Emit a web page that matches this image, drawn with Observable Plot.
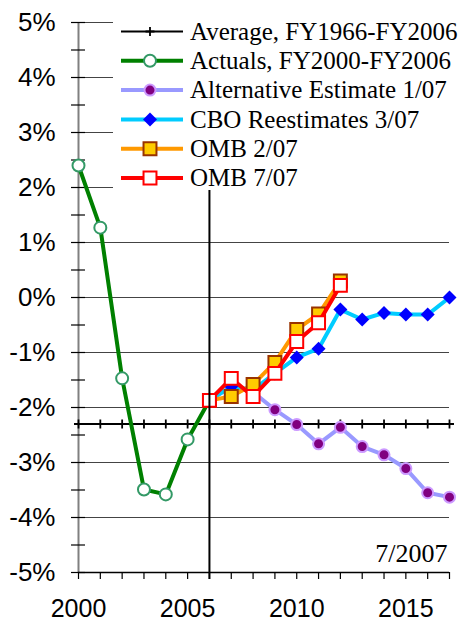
<!DOCTYPE html>
<html><head><meta charset="utf-8">
<script src="https://cdn.jsdelivr.net/npm/d3@7"></script>
<script src="https://cdn.jsdelivr.net/npm/@observablehq/plot@0.6"></script>
<style>body{margin:0;background:#fff} .serif-text{font-family:"Liberation Serif","Times New Roman",serif !important;}</style>
</head><body><div id="chart"></div>
<script>
// ---- data ----
const allYears = [2000,2001,2002,2003,2004,2005,2006,2007,2008,2009,2010,2011,2012,2013,2014,2015,2016,2017];
const labeledYears = [2000,2005,2010,2015];
const yMajor = [-5,-4,-3,-2,-1,0,1,2,3,4,5];
const yMinor = [-5,-4.5,-4,-3.5,-3,-2.5,-2,-1.5,-1,-0.5,0,0.5,1,1.5,2,2.5,3,3.5,4,4.5,5];
const budgetYear = [2006];
const stampText = ["7/2007"];

const avgYears = allYears;
const avgValues = [-2.3,-2.3,-2.3,-2.3,-2.3,-2.3,-2.3,-2.3,-2.3,-2.3,-2.3,-2.3,-2.3,-2.3,-2.3,-2.3,-2.3,-2.3];

const actualYears = [2000,2001,2002,2003,2004,2005,2006];
const actualValues = [2.4,1.27,-1.47,-3.49,-3.58,-2.58,-1.87];

const altYears = [2006,2007,2008,2009,2010,2011,2012,2013,2014,2015,2016,2017];
const altValues = [-1.87,-1.62,-1.72,-2.04,-2.31,-2.66,-2.36,-2.71,-2.86,-3.11,-3.55,-3.63];

const cboYears = [2006,2007,2008,2009,2010,2011,2012,2013,2014,2015,2016,2017];
const cboValues = [-1.87,-1.62,-1.68,-1.38,-1.09,-0.93,-0.22,-0.4,-0.28,-0.31,-0.31,0.0];

const omb2Years = [2006,2007,2008,2009,2010,2011,2012];
const omb2Values = [-1.87,-1.8,-1.58,-1.18,-0.58,-0.3,0.3];

const omb7Years = [2006,2007,2008,2009,2010,2011,2012];
const omb7Values = [-1.87,-1.47,-1.8,-1.38,-0.8,-0.46,0.22];

const seriesNames = ["Average, FY1966-FY2006","Actuals, FY2000-FY2006","Alternative Estimate 1/07","CBO Reestimates 3/07","OMB 2/07","OMB 7/07"];

// ---- styles ----
const styles = [
  {line:"#000000", lw:2, symbol:"plus", r:3, fill:"none", stroke:"#000", sw:1.8},
  {line:"#008000", lw:4, symbol:"circle", r:6, fill:"#fff", stroke:"#339966", sw:2},
  {line:"#9999FF", lw:4, symbol:"circle", r:5.5, fill:"#800080", stroke:"#CC99FF", sw:2},
  {line:"#00CCFF", lw:4, symbol:"diamond2", r:6.3, fill:"#0000FF", stroke:"none", sw:0},
  {line:"#FF9900", lw:4, symbol:"square", r:7.3, fill:"#FFCC00", stroke:"#993300", sw:2},
  {line:"#FF0000", lw:4, symbol:"square", r:7.3, fill:"#FFFFFF", stroke:"#FF0000", sw:2}
];
const seriesData = [
  [avgYears, avgValues],[actualYears, actualValues],[altYears, altValues],
  [cboYears, cboValues],[omb2Years, omb2Values],[omb7Years, omb7Values]
];
const tables = seriesData.map(([xs, ys]) => xs.map((x, i) => ({x, y: ys[i]})));

const seriesMarks = tables.flatMap((t, i) => {
  const s = styles[i];
  return [
    Plot.line(t, {x:"x", y:"y", stroke:s.line, strokeWidth:s.lw, strokeLinejoin:"round"}),
    Plot.dot(t, {x:"x", y:"y", symbol:()=>s.symbol, r:s.r, fill:s.fill, stroke:s.stroke, strokeWidth:s.sw})
  ];
});

const chart = Plot.plot({
  width: 464, height: 622,
  marginLeft: 78, marginRight: 15, marginTop: 22, marginBottom: 50,
  x: {domain: [2000, 2017], axis: null},
  y: {domain: [-5, 5], axis: null},
  symbol: {type: "identity"},
  style: {background: "#fff", fontFamily: "'Liberation Sans', Arial, sans-serif", color: "#000"},
  marks: [
    Plot.ruleY(yMajor.filter(v => v > -5), {stroke: "#444", strokeWidth: 1}),
    Plot.ruleX([allYears[0]], {stroke: "#808080", strokeWidth: 2}),
    Plot.ruleY(yMinor, {x1: 1999.68, x2: 2000.32, stroke: "#000", strokeWidth: 1.2}),
    Plot.ruleY([yMajor[0]], {stroke: "#000", strokeWidth: 1.5}),
    Plot.axisX(allYears, {tickSize: 7, tickPadding: 20, tickFormat: d => labeledYears.includes(d) ? String(d) : "", fontSize: 25, label: null, strokeWidth: 1.2}),
    Plot.axisY(yMajor, {tickSize: 0, tickPadding: 23, tickFormat: d => `${d}%`, fontSize: 26, label: null}),
    Plot.text(stampText, {frameAnchor: "bottom-right", textAnchor: "end", lineAnchor: "bottom", dx: -2, dy: -11, fontSize: 26, className: "stamp"}),
    ...seriesMarks,
    Plot.ruleX(budgetYear, {stroke: "#000", strokeWidth: 2, insetBottom: -7})
  ]
});
document.getElementById("chart").append(chart);
d3.select(chart).selectAll("text").filter(function(){ return this.textContent === stampText[0]; }).classed("serif-text", true);

// ---- legend (inside plot area, top right) ----
const svg = d3.select(chart);
const lg = svg.append("g").attr("text-anchor", "start");
lg.append("rect").attr("x", 113).attr("y", 0).attr("width", 351).attr("height", 190)
  .style("fill", "#ffffff").style("stroke", "none");
seriesNames.forEach((name, i) => {
  const s = styles[i];
  const y = 31.5 + i * 29.3;
  const g = lg.append("g");
  g.append("line").attr("x1", 121).attr("x2", 183).attr("y1", y).attr("y2", y)
    .attr("stroke", s.line).attr("stroke-width", s.lw);
  const sym = {circle: d3.symbolCircle, plus: d3.symbolPlus, diamond2: d3.symbolDiamond2, square: d3.symbolSquare}[s.symbol];
  g.append("path").attr("transform", `translate(150,${y})`)
    .attr("d", d3.symbol(sym, Math.PI * s.r * s.r)())
    .attr("fill", s.fill).attr("stroke", s.stroke).attr("stroke-width", s.sw);
  g.append("text").attr("x", 190).attr("y", y).attr("dy", "0.33em").attr("text-anchor", "start")
    .attr("class", "serif-text").attr("font-size", 25).attr("fill", "#000").text(name);
});
</script>
</body></html>
